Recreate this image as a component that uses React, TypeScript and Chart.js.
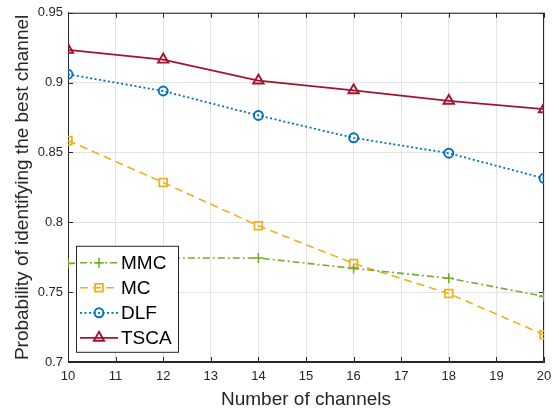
import React, { useEffect, useRef } from "react";
import { Chart, registerables } from "chart.js";
import { drawPoint } from "chart.js/helpers";

Chart.register(...registerables);

const channels = [10, 12, 14, 16, 18, 20];
const mmc = [0.7705, 0.7745, 0.7745, 0.767, 0.76, 0.747];
const mc = [0.8585, 0.8285, 0.7975, 0.7705, 0.749, 0.7195];
const dlf = [0.906, 0.894, 0.8765, 0.8605, 0.8495, 0.8315];
const tsca = [0.9235, 0.9165, 0.9015, 0.8945, 0.887, 0.881];
const xTicks = [10, 11, 12, 13, 14, 15, 16, 17, 18, 19, 20];
const yTicks = [0.7, 0.75, 0.8, 0.85, 0.9, 0.95];
const xTitle = "Number of channels";
const yTitle = "Probability of identifying the best channel";

const FONT = "'Liberation Sans', Arial, Helvetica, sans-serif";
const AXIS = "#262626";

const toPts = (vals: number[]) => vals.map((v, i) => ({ x: channels[i], y: v }));

const boxPlugin = {
  id: "boxAndTicks",
  beforeDatasetsDraw(chart: any) {
    const { ctx, chartArea: a, scales } = chart;
    ctx.save();
    ctx.strokeStyle = AXIS;
    ctx.lineWidth = 1;
    ctx.beginPath();
    ctx.rect(a.left + 0.5, a.top + 0.5, a.right - a.left - 1, a.bottom - a.top - 1);
    ctx.stroke();
    const L = 5;
    ctx.beginPath();
    for (const t of xTicks) {
      const px = Math.round(scales.x.getPixelForValue(t)) + 0.5;
      ctx.moveTo(px, a.bottom);
      ctx.lineTo(px, a.bottom - L);
      ctx.moveTo(px, a.top);
      ctx.lineTo(px, a.top + L);
    }
    for (const t of yTicks) {
      const py = Math.round(scales.y.getPixelForValue(t)) + 0.5;
      ctx.moveTo(a.left, py);
      ctx.lineTo(a.left + L, py);
      ctx.moveTo(a.right, py);
      ctx.lineTo(a.right - L, py);
    }
    ctx.stroke();
    ctx.restore();
  },
};

const legendPlugin = {
  id: "customLegend",
  afterDraw(chart: any) {
    const { ctx, chartArea: a } = chart;
    const x0 = a.left + 8;
    const y0 = a.top + 233;
    const w = 102;
    const h = 106;
    ctx.save();
    ctx.fillStyle = "#ffffff";
    ctx.fillRect(x0, y0, w, h);
    ctx.strokeStyle = AXIS;
    ctx.lineWidth = 1;
    ctx.strokeRect(x0 + 0.5, y0 + 0.5, w, h);
    chart.data.datasets.forEach((ds: any, i: number) => {
      const cy = y0 + 17 + i * 25;
      ctx.strokeStyle = ds.borderColor;
      ctx.lineWidth = ds.borderWidth;
      ctx.setLineDash(ds.borderDash || []);
      ctx.beginPath();
      ctx.moveTo(x0 + 4, cy);
      ctx.lineTo(x0 + 42, cy);
      ctx.stroke();
      ctx.setLineDash([]);
      ctx.lineWidth = ds.pointBorderWidth;
      ctx.fillStyle = ds.pointBackgroundColor;
      drawPoint(ctx, { pointStyle: ds.pointStyle, rotation: 0, radius: ds.pointRadius, borderWidth: ds.pointBorderWidth }, x0 + 23, cy);
      ctx.fillStyle = "#000000";
      ctx.font = `19px ${FONT}`;
      ctx.textBaseline = "middle";
      ctx.fillText(ds.label, x0 + 45, cy + 1);
    });
    ctx.restore();
  },
};

export default function App() {
  const ref = useRef<HTMLCanvasElement>(null);
  useEffect(() => {
    document.body.style.margin = "0";
    const c = new Chart(ref.current!, {
      type: "line",
      data: {
        datasets: [
          {
            label: "MMC",
            data: toPts(mmc),
            borderColor: "#77AC30",
            borderWidth: 1.6,
            borderDash: [7, 3, 2, 3],
            pointStyle: "cross",
            pointRadius: 5,
            pointBorderWidth: 1.6,
            pointBorderColor: "#77AC30",
            pointBackgroundColor: "transparent",
          },
          {
            label: "MC",
            data: toPts(mc),
            borderColor: "#EDB120",
            borderWidth: 1.6,
            borderDash: [8, 5],
            pointStyle: "rect",
            pointRadius: 5.5,
            pointBorderWidth: 1.8,
            pointBorderColor: "#EDB120",
            pointBackgroundColor: "transparent",
          },
          {
            label: "DLF",
            data: toPts(dlf),
            borderColor: "#0072BD",
            borderWidth: 1.8,
            borderDash: [2, 2.5],
            pointStyle: "circle",
            pointRadius: 4.5,
            pointBorderWidth: 1.9,
            pointBorderColor: "#0072BD",
            pointBackgroundColor: "transparent",
          },
          {
            label: "TSCA",
            data: toPts(tsca),
            borderColor: "#A2142F",
            borderWidth: 1.8,
            borderDash: [],
            pointStyle: "triangle",
            pointRadius: 6,
            pointBorderWidth: 1.9,
            pointBorderColor: "#A2142F",
            pointBackgroundColor: "transparent",
          },
        ],
      },
      options: {
        animation: false,
        responsive: false,
        layout: { padding: { top: 12, right: 15, left: 0, bottom: 0 } },
        plugins: { legend: { display: false }, tooltip: { enabled: false } },
        scales: {
          x: {
            type: "linear",
            min: 10,
            max: 20,
            afterBuildTicks: (s: any) => {
              s.ticks = xTicks.map((v) => ({ value: v }));
            },
            afterFit: (s: any) => {
              s.height = 52;
            },
            ticks: { color: AXIS, font: { family: FONT, size: 13 }, padding: 7, maxRotation: 0, autoSkip: false },
            grid: { color: "#e3e3e3", drawTicks: false, lineWidth: 1 },
            border: { display: true, color: AXIS, width: 1 },
            title: { display: true, text: xTitle, color: AXIS, font: { family: FONT, size: 19 }, padding: { top: 0, bottom: 3 } },
          },
          y: {
            type: "linear",
            min: 0.7,
            max: 0.95,
            afterBuildTicks: (s: any) => {
              s.ticks = yTicks.map((v) => ({ value: v }));
            },
            afterFit: (s: any) => {
              s.width = 68;
            },
            ticks: {
              color: AXIS,
              font: { family: FONT, size: 13 },
              padding: 5,
              callback: (v: any) => String(Number(v)),
            },
            grid: { color: "#e3e3e3", drawTicks: false, lineWidth: 1 },
            border: { display: true, color: AXIS, width: 1 },
            title: { display: true, text: yTitle, color: AXIS, font: { family: FONT, size: 19 }, padding: { top: 11, bottom: 0 } },
          },
        },
      },
      plugins: [boxPlugin, legendPlugin],
    } as any);
    return () => c.destroy();
  }, []);
  return (
    <div style={{ width: 559, height: 414 }}>
      <canvas ref={ref} width={559} height={414} style={{ width: 559, height: 414 }} />
    </div>
  );
}
